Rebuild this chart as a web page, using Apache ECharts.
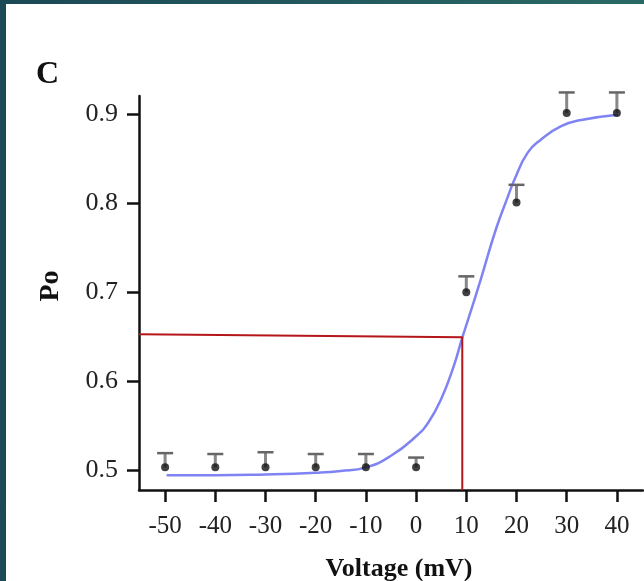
<!DOCTYPE html>
<html>
<head>
<meta charset="utf-8">
<script src="https://cdn.jsdelivr.net/npm/echarts@6/dist/echarts.min.js"></script>
<style>
  html, body { margin: 0; padding: 0; }
  body { width: 644px; height: 581px; background: linear-gradient(90deg, #1b4956 0%, #22585e 50%, #2b6a64 100%); position: relative; overflow: hidden; }
  #paper { position: absolute; left: 6px; top: 4px; right: 0; bottom: 0; background: #ffffff; }
  #main { position: absolute; left: 0; top: 0; width: 644px; height: 581px; }
</style>
</head>
<body>
<div id="paper"></div>
<div id="main"></div>
<script>
// 数据点（电压 / 开放概率 / 误差上限）
const voltage = [-50, -40, -30, -20, -10, 0, 10, 20, 30, 40];
const poMean  = [0.503, 0.503, 0.503, 0.503, 0.503, 0.503, 0.700, 0.801, 0.902, 0.902];
const poUpper = [0.519, 0.518, 0.520, 0.518, 0.518, 0.514, 0.718, 0.821, 0.925, 0.925];

// 拟合曲线（从图上读出的点）
const curveV  = [-49.7, -40, -30, -20, -15, -10, -5, 0, 2.5, 5, 7.5, 9.2, 10.4, 12.9, 15.9, 18.3, 19.6, 22.2, 24.9, 28.9, 32.9, 40.2];
const curvePo = [0.494, 0.494, 0.495, 0.497, 0.499, 0.503, 0.516, 0.538, 0.554, 0.580, 0.617, 0.649, 0.670, 0.715, 0.771, 0.808, 0.827, 0.857, 0.872, 0.887, 0.894, 0.900];

// 红色参考线
const refV  = [-55.2, 9.2, 9.2];
const refPo = [0.6528, 0.6494, 0.4775];

// 刻度
const xTicks = [-50, -40, -30, -20, -10, 0, 10, 20, 30, 40];
const yTicks = [0.5, 0.6, 0.7, 0.8, 0.9];

const zip = (a, b) => a.map((v, i) => [v, b[i]]);
const serif = '"Liberation Serif", "DejaVu Serif", serif';

let myChart = echarts.init(document.getElementById('main'));
myChart.setOption({
    backgroundColor: 'transparent',
    animation: false,
    graphic: [{
        type: 'text',
        left: 36,
        top: 59,
        style: { text: 'C', font: 'bold 32px ' + serif, fill: '#111' }
    }],
    grid: { left: 139, right: 1, top: 96, bottom: 91, outerBoundsMode: 'none', containLabel: false },
    xAxis: {
        type: 'value',
        min: -55.2,
        max: 45.2,
        name: 'Voltage (mV)',
        nameLocation: 'middle',
        nameGap: 66,
        nameMoveOverlap: false,
        nameTextStyle: { fontFamily: serif, fontWeight: 'bold', fontSize: 26, color: '#111', padding: [0, 0, 0, 16] },
        axisLine: { onZero: false, lineStyle: { color: '#111', width: 2.5 } },
        axisTick: { show: true, customValues: xTicks, length: 12, lineStyle: { color: '#111', width: 2.5 } },
        axisLabel: { customValues: xTicks, margin: 24, fontFamily: serif, fontSize: 25, color: '#222' },
        splitLine: { show: false }
    },
    yAxis: {
        type: 'value',
        min: 0.4775,
        max: 0.921,
        name: 'Po',
        nameLocation: 'middle',
        nameGap: 74,
        nameRotate: 90,
        nameMoveOverlap: false,
        nameTextStyle: { fontFamily: serif, fontWeight: 'bold', fontSize: 28, color: '#111', padding: [0, 0, 0, 14] },
        axisLine: { show: true, onZero: false, lineStyle: { color: '#111', width: 2.5 } },
        axisTick: { show: true, customValues: yTicks, length: 12, lineStyle: { color: '#111', width: 2.5 } },
        axisLabel: { customValues: yTicks, margin: 21, fontFamily: serif, fontSize: 26, color: '#222',
                     formatter: v => v.toFixed(1) },
        splitLine: { show: false }
    },
    series: [
        {
            name: 'fit',
            type: 'line',
            data: zip(curveV, curvePo),
            smooth: true,
            showSymbol: false,
            lineStyle: { color: '#7f84f2', width: 2.5 },
            z: 2
        },
        {
            name: 'ref',
            type: 'line',
            data: zip(refV, refPo),
            showSymbol: false,
            lineStyle: { color: '#b5161a', width: 2 },
            z: 3
        },
        {
            name: 'err',
            type: 'custom',
            clip: false,
            data: voltage.map((v, i) => [v, poMean[i], poUpper[i]]),
            renderItem: function (params, api) {
                const p0 = api.coord([api.value(0), api.value(1)]);
                const p1 = api.coord([api.value(0), api.value(2)]);
                return {
                    type: 'group',
                    children: [
                        { type: 'line', shape: { x1: p0[0], y1: p0[1], x2: p1[0], y2: p1[1] }, style: { stroke: '#888', lineWidth: 3 } },
                        { type: 'line', shape: { x1: p1[0] - 8, y1: p1[1], x2: p1[0] + 8, y2: p1[1] }, style: { stroke: '#666', lineWidth: 2.5 } }
                    ]
                };
            },
            z: 4
        },
        {
            name: 'mean',
            type: 'scatter',
            data: zip(voltage, poMean),
            symbolSize: 8,
            itemStyle: { color: '#111' },
            z: 5
        }
    ]
});
</script>
</body>
</html>
